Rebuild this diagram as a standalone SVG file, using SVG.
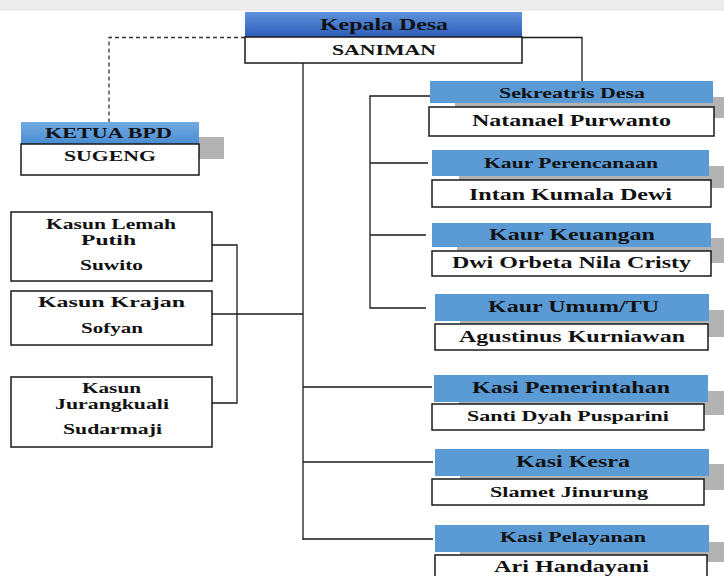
<svg xmlns="http://www.w3.org/2000/svg" width="724" height="576" viewBox="0 0 724 576">
<defs>
<linearGradient id="gKep" x1="0" y1="0" x2="0" y2="1"><stop offset="0" stop-color="#5f93dc"/><stop offset="1" stop-color="#2b5db7"/></linearGradient>
<linearGradient id="gBpd" x1="0" y1="0" x2="0" y2="1"><stop offset="0" stop-color="#72aae2"/><stop offset="1" stop-color="#4a8dd2"/></linearGradient>
</defs>
<style>
.t{font-family:"Liberation Serif","Times New Roman",serif;font-weight:bold;fill:#111;text-anchor:middle}
.hd{fill:#5b9bd5}
.bd{fill:#fff;stroke:#1a1a1a;stroke-width:1.5}
.sh{fill:#b3b3b3}
.ln{fill:none;stroke:#1a1a1a;stroke-width:1.3}
.ds{fill:none;stroke:#333;stroke-width:1.3;stroke-dasharray:4 3}
</style>
<rect x="0" y="0" width="724" height="576" fill="#fff"/>
<rect x="0" y="0" width="724" height="11" fill="#ececec"/>

<g id="connectors">
<path class="ds" d="M245,37.5 H109 V122"/>
<path class="ln" d="M522,37.5 H582 V81"/>
<path class="ln" d="M303,63 V540"/>
<path class="ln" d="M430,96 H370 V308 H426 M370,163 H428 M370,235 H426"/>
<path class="ln" d="M212,245 H237 V403 H212 M212,314 H303"/>
<path class="ln" d="M303,387 H432 M303,462 H433 M303,539 H433"/>
</g>

<g id="kepala">
<rect x="245" y="12" width="277" height="25" fill="url(#gKep)"/>
<rect class="bd" x="245" y="37" width="277" height="26"/>
<text class="t" x="384" y="30" font-size="16" textLength="128" lengthAdjust="spacingAndGlyphs">Kepala Desa</text>
<text class="t" x="384" y="55" font-size="15" textLength="104" lengthAdjust="spacingAndGlyphs">SANIMAN</text>
</g>

<g id="bpd">
<rect class="sh" x="45" y="137" width="179" height="22"/>
<rect x="21" y="122" width="178" height="22" fill="url(#gBpd)"/>
<rect class="bd" x="21" y="144" width="178" height="31"/>
<text class="t" x="108.5" y="138" font-size="15" textLength="127" lengthAdjust="spacingAndGlyphs">KETUA BPD</text>
<text class="t" x="110" y="161" font-size="14" textLength="92" lengthAdjust="spacingAndGlyphs">SUGENG</text>
</g>

<g id="sekretaris">
<rect class="sh" x="455" y="97" width="280" height="21"/>
<rect class="hd" x="430" y="81" width="283" height="22"/>
<rect class="bd" x="429" y="107" width="285" height="29"/>
<text class="t" x="572" y="98" font-size="15" textLength="146" lengthAdjust="spacingAndGlyphs">Sekreatris Desa</text>
<text class="t" x="571.5" y="126" font-size="17" textLength="199" lengthAdjust="spacingAndGlyphs">Natanael Purwanto</text>
</g>

<g id="perencanaan">
<rect class="sh" x="459" y="166" width="276" height="22"/>
<rect class="hd" x="432" y="150" width="277" height="26"/>
<rect class="bd" x="432" y="180" width="279" height="27"/>
<text class="t" x="571" y="168" font-size="15" textLength="174" lengthAdjust="spacingAndGlyphs">Kaur Perencanaan</text>
<text class="t" x="570.5" y="200" font-size="17" textLength="203" lengthAdjust="spacingAndGlyphs">Intan Kumala Dewi</text>
</g>

<g id="keuangan">
<rect class="sh" x="457" y="238" width="278" height="25"/>
<rect class="hd" x="432" y="223" width="279" height="24"/>
<rect class="bd" x="432" y="251" width="279" height="25"/>
<text class="t" x="572" y="240" font-size="16" textLength="166" lengthAdjust="spacingAndGlyphs">Kaur Keuangan</text>
<text class="t" x="571.5" y="268" font-size="17" textLength="239" lengthAdjust="spacingAndGlyphs">Dwi Orbeta Nila Cristy</text>
</g>

<g id="umum">
<rect class="sh" x="460" y="310" width="275" height="27"/>
<rect class="hd" x="435" y="294" width="274" height="27"/>
<rect class="bd" x="435" y="324" width="273" height="26"/>
<text class="t" x="573.5" y="312" font-size="17" textLength="171" lengthAdjust="spacingAndGlyphs">Kaur Umum/TU</text>
<text class="t" x="572" y="342" font-size="17" textLength="226" lengthAdjust="spacingAndGlyphs">Agustinus Kurniawan</text>
</g>

<g id="pemerintahan">
<rect class="sh" x="459" y="391" width="276" height="24"/>
<rect class="hd" x="434" y="375" width="274" height="27"/>
<rect class="bd" x="432" y="404" width="272" height="26"/>
<text class="t" x="571" y="393" font-size="17" textLength="198" lengthAdjust="spacingAndGlyphs">Kasi Pemerintahan</text>
<text class="t" x="568" y="421" font-size="15" textLength="202" lengthAdjust="spacingAndGlyphs">Santi Dyah Pusparini</text>
</g>

<g id="kesra">
<rect class="sh" x="460" y="464" width="275" height="26"/>
<rect class="hd" x="435" y="449" width="274" height="27"/>
<rect class="bd" x="432" y="479" width="272" height="26"/>
<text class="t" x="573" y="467" font-size="17" textLength="114" lengthAdjust="spacingAndGlyphs">Kasi Kesra</text>
<text class="t" x="569" y="497" font-size="15" textLength="158" lengthAdjust="spacingAndGlyphs">Slamet Jinurung</text>
</g>

<g id="pelayanan">
<rect class="sh" x="460" y="542" width="275" height="20"/>
<rect class="hd" x="435" y="525" width="274" height="27"/>
<rect class="bd" x="435" y="555" width="272" height="24"/>
<text class="t" x="573" y="542" font-size="15" textLength="146" lengthAdjust="spacingAndGlyphs">Kasi Pelayanan</text>
<text class="t" x="571.5" y="572" font-size="17" textLength="155" lengthAdjust="spacingAndGlyphs">Ari Handayani</text>
</g>

<g id="kasun-lemah-putih">
<rect class="bd" x="11" y="212" width="201" height="69"/>
<text class="t" x="111" y="229" font-size="14" textLength="130" lengthAdjust="spacingAndGlyphs">Kasun Lemah</text>
<text class="t" x="108.5" y="245" font-size="14" textLength="55" lengthAdjust="spacingAndGlyphs">Putih</text>
<text class="t" x="111.5" y="270" font-size="14" textLength="63" lengthAdjust="spacingAndGlyphs">Suwito</text>
</g>

<g id="kasun-krajan">
<rect class="bd" x="11" y="291" width="201" height="54"/>
<text class="t" x="111.5" y="307" font-size="15" textLength="147" lengthAdjust="spacingAndGlyphs">Kasun Krajan</text>
<text class="t" x="112" y="333" font-size="14" textLength="62" lengthAdjust="spacingAndGlyphs">Sofyan</text>
</g>

<g id="kasun-jurangkuali">
<rect class="bd" x="11" y="377" width="201" height="70"/>
<text class="t" x="111.5" y="393" font-size="14" textLength="59" lengthAdjust="spacingAndGlyphs">Kasun</text>
<text class="t" x="112" y="409" font-size="14" textLength="114" lengthAdjust="spacingAndGlyphs">Jurangkuali</text>
<text class="t" x="112.5" y="434" font-size="14" textLength="99" lengthAdjust="spacingAndGlyphs">Sudarmaji</text>
</g>
</svg>
